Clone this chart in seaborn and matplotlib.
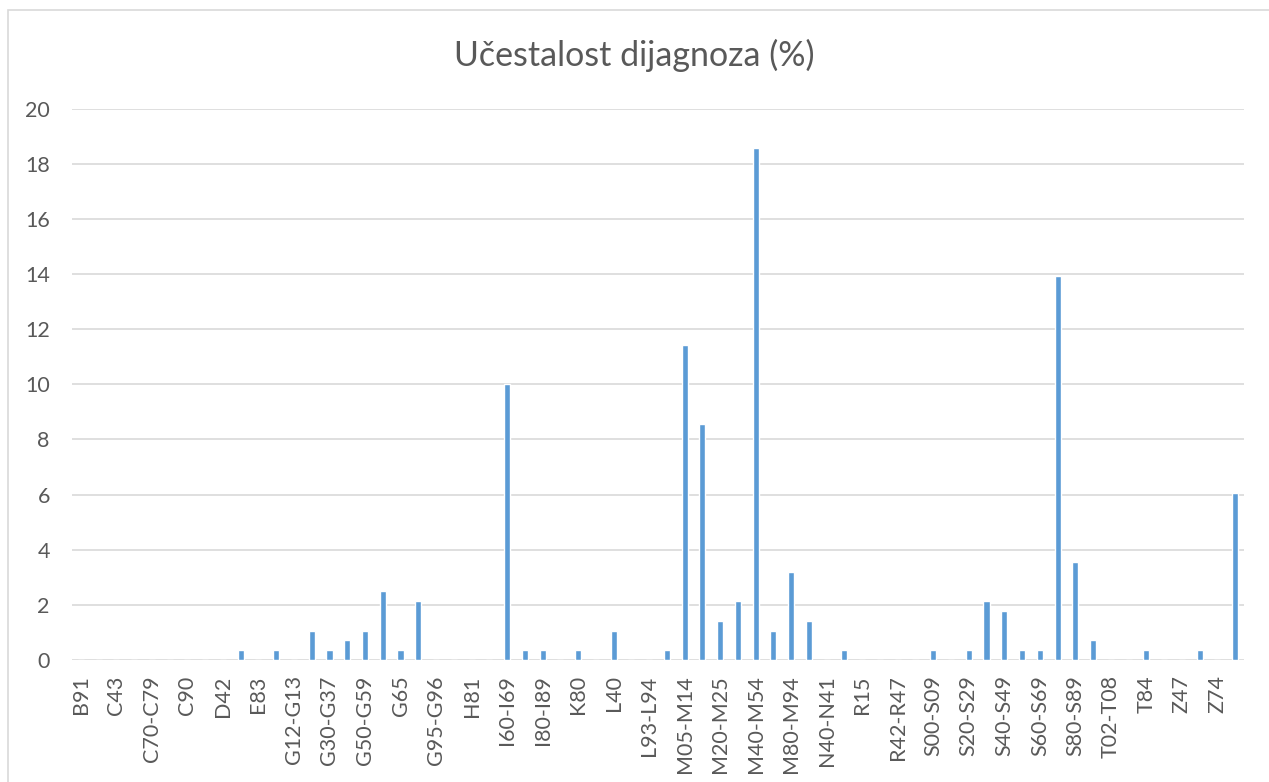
import numpy as np
import pandas as pd
import matplotlib
matplotlib.use("Agg")
import matplotlib.pyplot as plt
import seaborn as sns
from matplotlib.patches import Rectangle

# ---------- data ----------
codes = [
    "B91", "C18", "C43", "C50", "C70-C79", "C81-C96", "C90", "D32",
    "D42", "E11", "E83", "G11", "G12-G13", "G20-G26", "G30-G37", "G40-G47",
    "G50-G59", "G60-G64", "G65", "G90", "G95-G96", "H60-H62", "H81", "I10-I15",
    "I60-I69", "I70-I79", "I80-I89", "J00-J06", "K80", "K40-K46", "L40", "L60-L75",
    "L93-L94", "M00-M03", "M05-M14", "M15-M19", "M20-M25", "M30-M36", "M40-M54", "M60-M79",
    "M80-M94", "M95-M99", "N40-N41", "N80-N98", "R15", "R25-R29", "R42-R47", "R50-R69",
    "S00-S09", "S10-S19", "S20-S29", "S30-S39", "S40-S49", "S50-S59", "S60-S69", "S70-S79",
    "S80-S89", "S90-S99", "T02-T08", "T20-T32", "T84", "T90-T98", "Z47", "Z50",
    "Z74", "Z96",
]
percent = [
    0, 0, 0, 0, 0, 0, 0, 0,
    0, 0.36, 0, 0.36, 0, 1.07, 0.36, 0.71,
    1.07, 2.5, 0.36, 2.14, 0, 0, 0, 0,
    10.0, 0.36, 0.36, 0, 0.36, 0, 1.07, 0,
    0, 0.36, 11.43, 8.57, 1.43, 2.14, 18.57, 1.07,
    3.21, 1.43, 0, 0.36, 0, 0, 0, 0,
    0.36, 0, 0.36, 2.14, 1.79, 0.36, 0.36, 13.93,
    3.57, 0.71, 0, 0, 0.36, 0, 0, 0.36,
    0, 6.07,
]
y_ticks = list(range(0, 21, 2))
title = "Učestalost dijagnoza (%)"

BAR = "#5B9BD5"
GRID = "#D9D9D9"
TXT = "#595959"

sns.set_theme(style="white")
plt.rcParams["font.family"] = ["Lato", "DejaVu Sans"]

df = pd.DataFrame({"code": codes, "pct": percent})

fig = plt.figure(figsize=(12.69, 7.82), dpi=100)
ax = fig.add_axes([72 / 1269, 1 - 660 / 782, (1244 - 72) / 1269, (660 - 108.7) / 782])

sns.barplot(data=df, x="code", y="pct", order=codes, color=BAR,
            width=0.34, saturation=1, ax=ax, zorder=3)

ax.set_xlim(-0.5, len(codes) - 0.5)
ax.set_ylim(0, 20)
ax.set_yticks(y_ticks)
ax.set_yticklabels([str(v) for v in y_ticks], fontsize=15.5, color=TXT)
ax.set_xticks(range(0, len(codes), 2))
ax.set_xticklabels(codes[::2], rotation=90, fontsize=15.5, color=TXT)
ax.tick_params(axis="both", length=0)
ax.tick_params(axis="y", pad=16)
ax.tick_params(axis="x", pad=11)
ax.set_xlabel("")
ax.set_ylabel("")
ax.yaxis.grid(True, color=GRID, linewidth=1.2, zorder=0)
ax.set_axisbelow(True)
for s in ax.spines.values():
    s.set_visible(False)

fig.text(0.5, 1 - 55 / 782, title, ha="center", va="center",
         fontsize=24.5, color=TXT)

# chart border as in the spreadsheet export
fig.add_artist(Rectangle((8 / 1269, -0.05), 1.1, 1 - 10 / 782 + 0.05,
                         transform=fig.transFigure, fill=False,
                         edgecolor=GRID, linewidth=1.2))

fig.savefig("out.png", dpi=100)
